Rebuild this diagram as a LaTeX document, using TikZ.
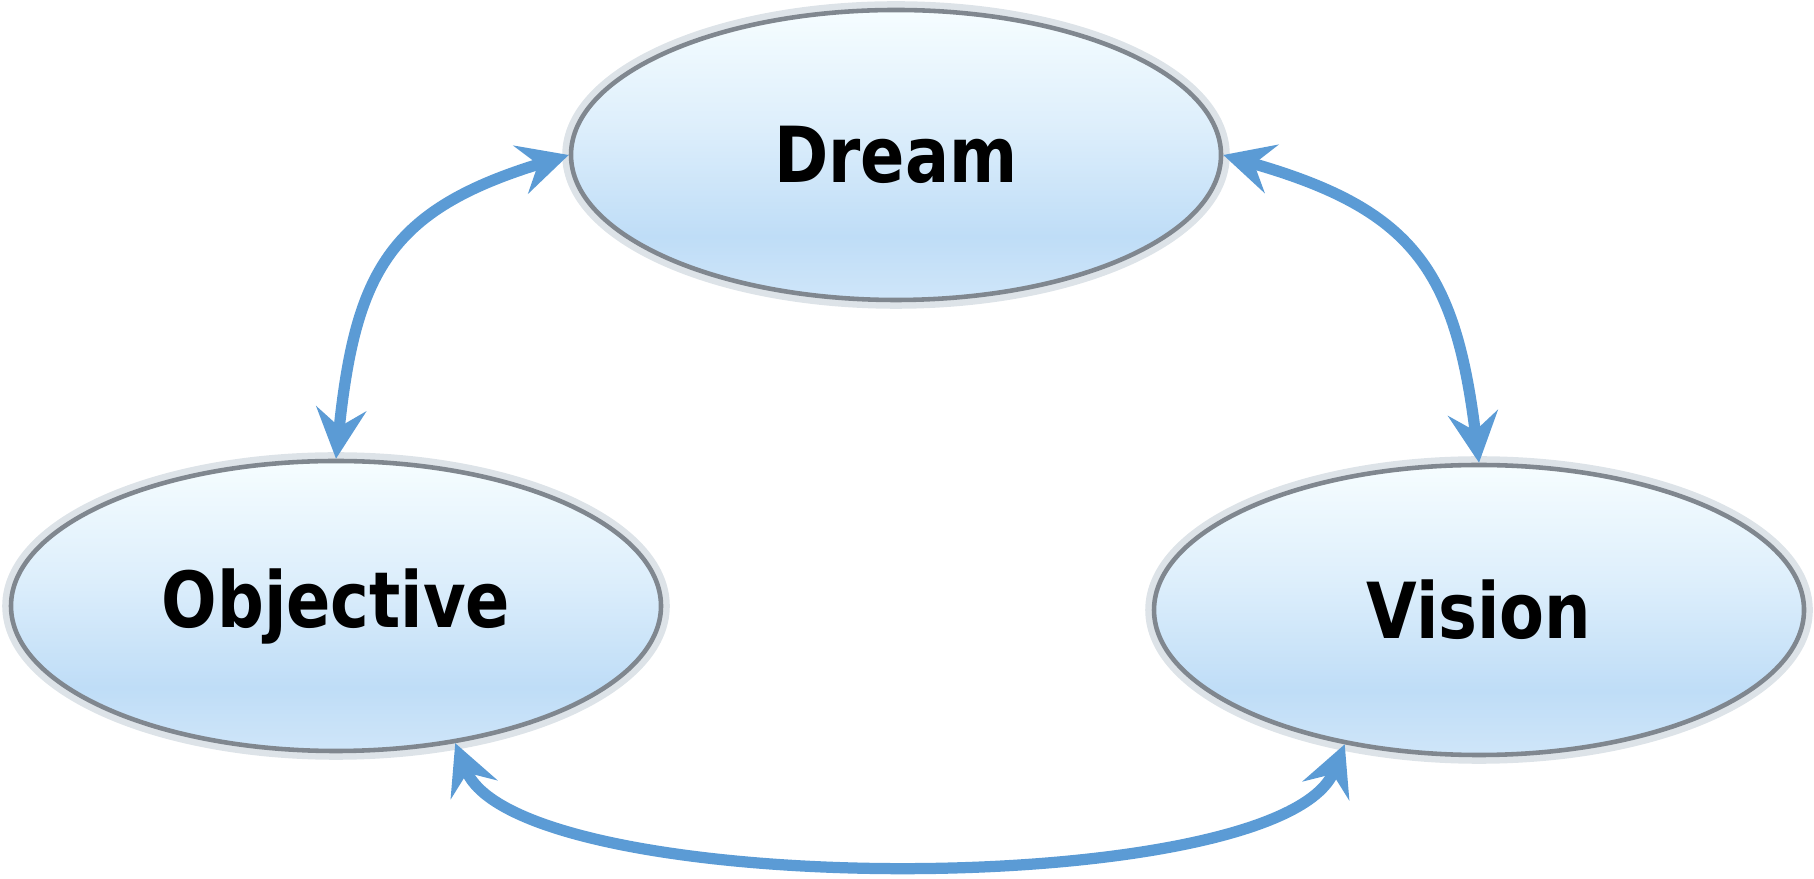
\documentclass[tikz,border=0pt]{standalone}
\usepackage{fontspec}
\setmainfont{DejaVu Sans Condensed}[FakeStretch=0.94]
\usepackage{tikz}
\usetikzlibrary{arrows.meta, shapes.geometric}
\usepackage{xcolor}
\definecolor{linkblue}{HTML}{5B9BD5}
\definecolor{topfill}{HTML}{F6FDFF}
\definecolor{midfill}{HTML}{BFDDF7}
\definecolor{rimgray}{HTML}{80878F}
\definecolor{rimlight}{HTML}{DDE3E8}
\pgfdeclareverticalshading{bubbleshade}{100bp}{color(0bp)=(midfill!75!white); color(25bp)=(midfill!75!white);
  color(36bp)=(midfill); color(55bp)=(midfill!45!topfill); color(75bp)=(topfill); color(100bp)=(topfill)}
\tikzstyle{bubble}=[ellipse, minimum width=6.5cm, minimum height=2.9cm, inner sep=0,
  shading=bubbleshade, draw=rimgray, line width=1.3pt,
  preaction={draw=rimlight, line width=5pt},
  font=\bfseries\fontsize{22}{26}\selectfont]
\tikzstyle{link}=[{Stealth[length=0.5cm, width=0.5cm, inset=0.18cm]}-{Stealth[length=0.5cm, width=0.5cm, inset=0.18cm]},
  draw=linkblue, line width=3.2pt]

\begin{document}
\begin{tikzpicture}
		\useasboundingbox (0,0) rectangle (18.14,8.78);
		
		\node[bubble] (dream) at (8.96,7.23) {Dream};
		\node[bubble] (objective) at (3.36,2.72) {Objective};
		\node[bubble] (vision) at (14.79,2.68) {Vision};
		
		\draw[link] (objective.north) to[out=84, in=197, looseness=1.25] (dream.west);
		\draw[link] (dream.east) to[out=-16, in=97, looseness=1.25] (vision.north);
		\draw[link] (objective.-49) to[out=-68, in=-112, looseness=0.49] (vision.-135);
	\end{tikzpicture}
\end{document}
